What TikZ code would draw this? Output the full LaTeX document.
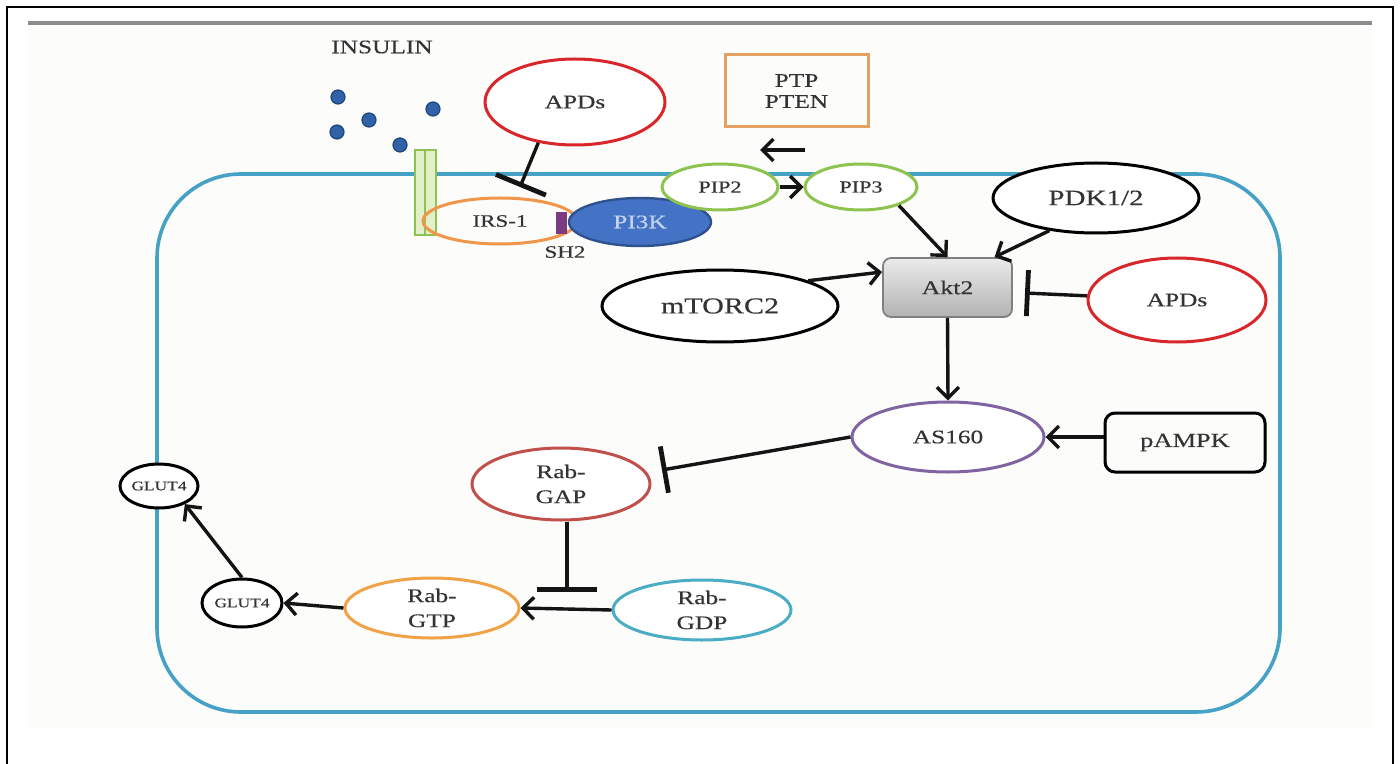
\documentclass[tikz,border=0pt]{standalone}
\usepackage{fontspec}
\setmainfont{Liberation Serif}[FakeStretch=1.32,FakeBold=0.35]
\usetikzlibrary{arrows.meta,shapes.geometric,calc}

\definecolor{txt}{HTML}{333333}
\definecolor{membrane}{HTML}{46A1C6}
\definecolor{apdred}{HTML}{D9262B}
\definecolor{gapred}{HTML}{C0504D}
\definecolor{irsorange}{HTML}{F0964A}
\definecolor{gtporange}{HTML}{F2A146}
\definecolor{ptporange}{HTML}{E2A062}
\definecolor{pipgreen}{HTML}{8DC34F}
\definecolor{recfill}{HTML}{E2EFC9}
\definecolor{aspurple}{HTML}{8064A2}
\definecolor{gdpblue}{HTML}{4BACC6}
\definecolor{pifill}{HTML}{4472C4}
\definecolor{piedge}{HTML}{2F528F}
\definecolor{pitext}{HTML}{C3D4EE}
\definecolor{shpurple}{HTML}{7B3C82}
\definecolor{dotblue}{HTML}{2F62A8}
\definecolor{bgtint}{HTML}{FCFCFA}

\newcommand{\fsize}[1]{\fontsize{#1}{#1}\selectfont}

\begin{document}
\begin{tikzpicture}[x=0.5pt,y=-0.5pt,
  ell/.style={ellipse, draw, line width=1.5pt, fill=white, inner sep=0pt,
              align=center, text=txt, font=\fsize{9.6}},
  boxnode/.style={rectangle, draw, inner sep=0pt, align=center, text=txt,
              font=\fsize{9.6}},
  conn/.style={line width=1.7pt, black!92},
  act/.style={conn, -{Straight Barb[length=5.5pt,width=11pt]}},
  inh/.style={conn, -{Bar[width=#1,line width=2.4pt]}},
  inh/.default=24pt,
  dot/.style={circle, fill=dotblue, draw=dotblue!70!black, line width=0.6pt,
              minimum size=7pt, inner sep=0pt},
  recbar/.style={draw=pipgreen, fill=recfill, line width=1.1pt}
]
% page and frame
\useasboundingbox (0,0) rectangle (1400,764);
\fill[white] (0,0) rectangle (1400,764);
\fill[bgtint] (28,23) rectangle (1372,728);
\draw[line width=1.1pt, black] (7,764) -- (7,7) -- (1393,7) -- (1393,764);
\draw[line width=1.8pt, black!45] (28,23) -- (1372,23);

% cell membrane
\draw[membrane, line width=1.8pt, rounded corners=42pt] (157,174) rectangle (1280,712);

% insulin
\node[text=txt, font=\fsize{9.6}] (insulin) at (382,47) {INSULIN};
\node[dot] (d1) at (338,97) {};
\node[dot] (d2) at (337,132) {};
\node[dot] (d3) at (369,120) {};
\node[dot] (d4) at (433,109) {};
\node[dot] (d5) at (400,145) {};

% insulin receptor
\draw[recbar] (415,150) rectangle (425,235);
\draw[recbar] (425,150) rectangle (436,235);

% IRS-1 / SH2 / PI3K complex
\node[ellipse, draw=irsorange, line width=1.5pt, inner sep=0pt,
      minimum width=77pt, minimum height=23pt, text=txt, font=\fsize{8.7}] (irs) at (500,221) {IRS-1};
\node[ellipse, draw=piedge, fill=pifill, line width=1.2pt, inner sep=0pt,
      minimum width=71pt, minimum height=24pt, text=pitext, font=\fsize{9.6}] (pi3k) at (640,222) {PI3K};
\node[rectangle, fill=shpurple, inner sep=0pt, minimum width=5.5pt, minimum height=11pt] (shbar) at (561.5,223) {};
\node[text=txt, font=\fsize{8.7}] (sh2) at (565,252) {SH2};

% top APDs
\node[ell, draw=apdred, minimum width=90pt, minimum height=43pt] (apdsTop) at (575,102) {APDs};
\coordinate (irsblock) at (520,187);

% phosphatases and phosphoinositides
\node[boxnode, draw=ptporange, line width=1.5pt, minimum width=71.5pt, minimum height=36pt,
      font=\fontsize{9.6}{10.5}\selectfont] (ptp) at (796.5,91) {PTP\\PTEN};
\coordinate (ptA) at (805,150);
\coordinate (ptB) at (760,150);
\node[ell, draw=pipgreen, minimum width=58pt, minimum height=23pt, font=\fsize{8.4}] (pip2) at (720,187) {PIP2};
\node[ell, draw=pipgreen, minimum width=56pt, minimum height=23pt, font=\fsize{8.4}] (pip3) at (861,187) {PIP3};

% kinases around Akt2
\node[ell, draw=black, minimum width=103pt, minimum height=35pt, font=\fsize{11}] (pdk) at (1096,198) {PDK1/2};
\node[rectangle, rounded corners=4pt, draw=black!50, line width=0.9pt,
      top color=black!8, bottom color=black!30, inner sep=0pt,
      minimum width=64.5pt, minimum height=29.5pt, text=txt, font=\fsize{9.8}] (akt) at (947.5,287.5) {Akt2};
\node[ell, draw=black, minimum width=118pt, minimum height=36pt, font=\fsize{11.4}] (mtorc) at (720,306) {mTORC2};
\node[ell, draw=apdred, minimum width=89pt, minimum height=42pt] (apdsRight) at (1177,300) {APDs};
\coordinate (aktblock) at (1025,293);

% AS160 and AMPK
\node[ell, draw=aspurple, minimum width=96pt, minimum height=35pt] (as160) at (948,437) {AS160};
\node[boxnode, draw=black, line width=1.5pt, rounded corners=5pt,
      minimum width=80pt, minimum height=29.5pt, font=\fsize{10}] (ampk) at (1185,442.5) {pAMPK};

% Rab cycle
\node[ell, draw=gapred, minimum width=89pt, minimum height=36pt,
      font=\fontsize{9.6}{12.5}\selectfont] (rabgap) at (561,484) {Rab-\\GAP};
\coordinate (gapblock) at (662,470);
\node[ell, draw=gdpblue, minimum width=89pt, minimum height=30pt,
      font=\fontsize{9.6}{12.5}\selectfont] (rabgdp) at (702,610) {Rab-\\GDP};
\node[ell, draw=gtporange, minimum width=87pt, minimum height=30pt,
      font=\fontsize{9.6}{12.5}\selectfont] (rabgtp) at (432,608) {Rab-\\GTP};
\coordinate (gtpblock) at (567,592);

% GLUT4 translocation
\node[ell, draw=black, minimum width=37pt, minimum height=22pt, font=\fsize{6.6}] (glutTop) at (159,486) {GLUT4};
\node[ell, draw=black, minimum width=40pt, minimum height=24pt, font=\fsize{6.6}] (glutLow) at (242,603) {GLUT4};

% connectors
\draw[inh=27pt] (apdsTop.-132) -- (irsblock);
\draw[act] (ptA) -- (ptB);
\draw[act] (pip2) -- (pip3);
\draw[act] (pip3.-26) -- (akt.north);
\draw[act] (pdk.-145) -- ([xshift=23.5pt]akt.north);
\draw[act] (mtorc.16) -- ([yshift=7.75pt]akt.west);
\draw[inh=23pt] (apdsRight) -- (aktblock);
\draw[act] (akt.south) -- (as160.north);
\draw[act] (ampk.west |- as160.east) -- (as160.east);
\draw[inh=23.5pt] (as160.west) -- (gapblock);
\draw[inh=30pt] (rabgap.south -| gtpblock) -- (gtpblock);
\draw[act] (rabgdp.west) -- (rabgtp.east);
\draw[act] (rabgtp.west) -- (glutLow.east);
\draw[act] (glutLow.north) -- (glutTop.-35);
\end{tikzpicture}
\end{document}
